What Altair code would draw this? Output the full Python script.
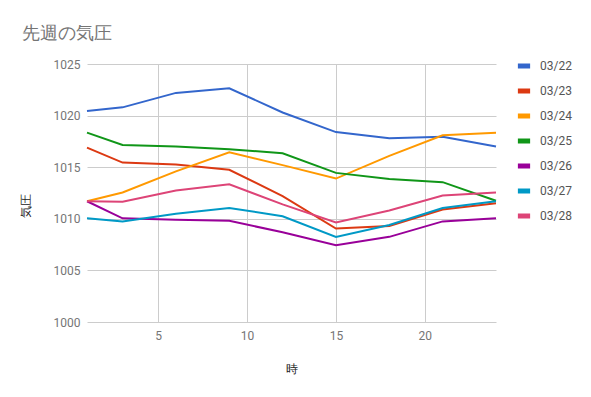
import altair as alt
import pandas as pd

hours = [1, 3, 6, 9, 12, 15, 18, 21, 24]
dates = ["03/22", "03/23", "03/24", "03/25", "03/26", "03/27", "03/28"]
p0322 = [1020.45, 1020.8, 1022.2, 1022.65, 1020.3, 1018.4, 1017.8, 1017.95, 1017.0]
p0323 = [1016.9, 1015.45, 1015.25, 1014.75, 1012.2, 1009.05, 1009.3, 1010.9, 1011.5]
p0324 = [1011.7, 1012.55, 1014.6, 1016.45, 1015.2, 1013.9, 1016.1, 1018.1, 1018.35]
p0325 = [1018.35, 1017.15, 1017.0, 1016.75, 1016.35, 1014.45, 1013.85, 1013.55, 1011.75]
p0326 = [1011.7, 1010.05, 1009.9, 1009.8, 1008.7, 1007.45, 1008.25, 1009.75, 1010.05]
p0327 = [1010.05, 1009.75, 1010.5, 1011.05, 1010.25, 1008.25, 1009.4, 1011.05, 1011.7]
p0328 = [1011.7, 1011.65, 1012.75, 1013.35, 1011.4, 1009.65, 1010.8, 1012.25, 1012.55]
colors = ["#3366cc", "#dc3912", "#ff9900", "#109618", "#990099", "#0099c6", "#dd4477"]

series = [p0322, p0323, p0324, p0325, p0326, p0327, p0328]
rows = []
for d, vals in zip(dates, series):
    for h, v in zip(hours, vals):
        rows.append({"時": h, "気圧": v, "date": d})
df = pd.DataFrame(rows)

FONT = "Roboto"

chart = alt.Chart(df).mark_line(strokeWidth=2).encode(
    x=alt.X("時:Q", scale=alt.Scale(domain=[1, 24], nice=False, zero=False),
            axis=alt.Axis(values=[5, 10, 15, 20], title="時", grid=True, domain=False, ticks=False,
                          labelPadding=8, titlePadding=22, labelFontSize=12, titleFontSize=12,
                          labelColor="#757575", titleColor="#222222", gridColor="#cccccc",
                          labelFont=FONT, titleFont=FONT, titleFontWeight="normal", format="d")),
    y=alt.Y("気圧:Q", scale=alt.Scale(domain=[1000, 1025], nice=False, zero=False),
            axis=alt.Axis(values=[1000, 1005, 1010, 1015, 1020, 1025], title="気圧", grid=True,
                          domain=False, ticks=False, labelPadding=7, titlePadding=21,
                          labelFontSize=12, titleFontSize=12, labelColor="#757575",
                          titleColor="#222222", gridColor="#cccccc", labelFont=FONT,
                          titleFont=FONT, titleFontWeight="normal", titleY=141, format="d")),
    color=alt.Color("date:N", scale=alt.Scale(domain=dates, range=colors),
                    legend=alt.Legend(title=None, orient="none", legendX=428, legendY=-7,
                                      symbolType="stroke", symbolSize=150,
                                      symbolStrokeWidth=5, rowPadding=5, labelFontSize=12,
                                      labelColor="#555555", labelFont=FONT, labelOffset=7)),
    order="date:N",
).properties(
    width=409, height=258,
    padding={"left": 79, "top": 56, "right": 87, "bottom": 67},
    autosize=alt.AutoSizeParams(type="none"),
    title=alt.TitleParams("先週の気圧", anchor="start", frame="group", dx=-65, offset=14,
                          fontSize=18, color="#757575", font=FONT, fontWeight="normal"),
).configure_view(stroke=None)

chart.save("out.html", embed_options={"renderer": "svg", "actions": False})
